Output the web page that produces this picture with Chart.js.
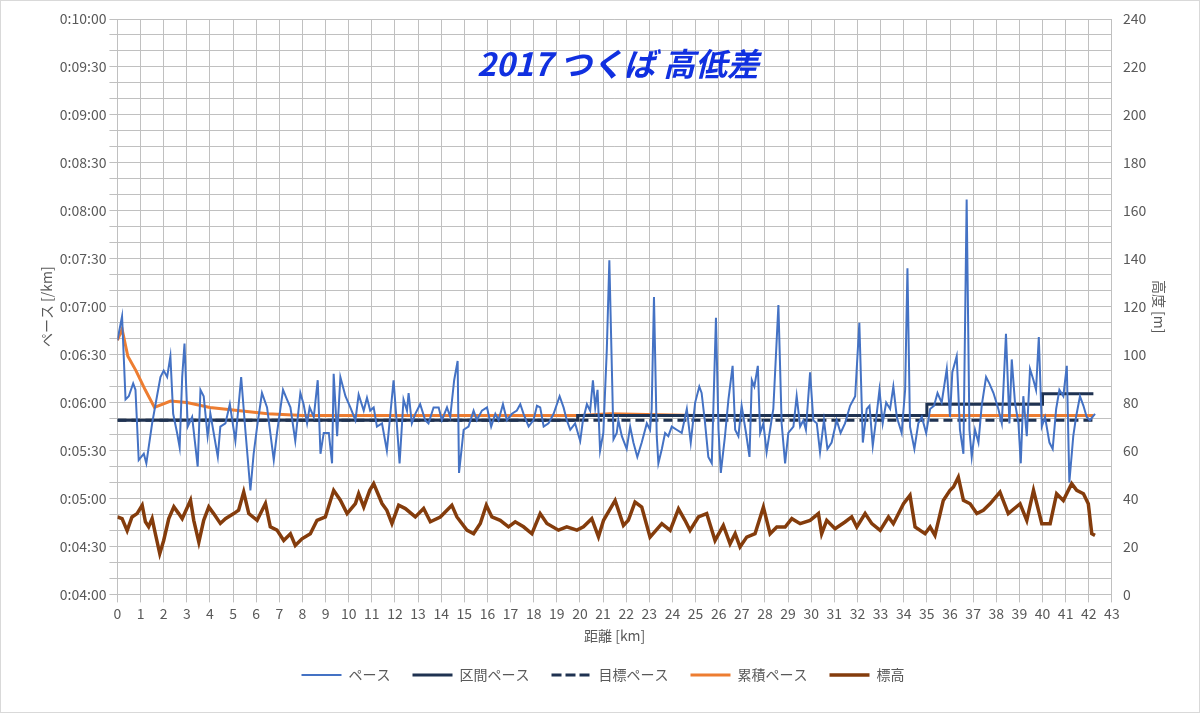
<!DOCTYPE html>
<html>
<head>
<meta charset="utf-8">
<script src="https://cdn.jsdelivr.net/npm/chart.js@4"></script>
<style>
  html, body { margin: 0; padding: 0; background: #fff; }
  #wrap { position: relative; width: 1198px; height: 711px; border: 1px solid #d9d9d9; }
  #title {
    position: absolute; left: 0; width: 1234px; top: 38px; text-align: center;
    font: italic bold 32px "Noto Sans CJK JP", sans-serif; color: #1030e0;
    pointer-events: none;
  }
</style>
</head>
<body>
<div id="wrap">
  <canvas id="chart" width="1198" height="711"></canvas>
  <div id="title">2017 つくば 高低差</div>
</div>
<script>
/* ── Data (distance km / pace seconds / elevation m) ── */
const paceKm = [0,0.2,0.35,0.49,0.68,0.78,0.92,1.14,1.25,1.5,1.71,1.86,2,2.15,2.29,2.41,2.58,2.69,2.8,2.9,3.04,3.23,3.47,3.59,3.73,3.9,4.02,4.34,4.45,4.67,4.86,5.1,5.35,5.53,5.75,5.89,6.04,6.25,6.47,6.76,6.9,7.16,7.33,7.48,7.69,7.91,8.05,8.2,8.31,8.49,8.66,8.78,8.92,9.14,9.28,9.35,9.5,9.64,9.86,10.07,10.29,10.43,10.65,10.79,
  10.93,11.08,11.22,11.44,11.65,11.94,12.09,12.2,12.37,12.52,12.59,12.73,12.88,13.09,13.31,13.45,13.67,13.89,14.03,14.25,14.39,14.56,14.71,14.77,14.97,15.18,15.4,15.54,15.76,15.98,16.16,16.34,16.48,16.67,16.84,17.06,17.27,17.42,17.56,17.78,17.99,18.14,18.28,18.43,18.64,18.86,19.12,19.29,19.43,19.58,19.79,20.01,20.13,20.3,20.44,20.56,20.66,20.76,20.87,
  21.01,21.16,21.27,21.45,21.59,21.66,21.81,22.02,22.17,22.31,22.48,22.67,22.89,23.03,23.1,23.2,23.32,23.39,23.54,23.68,23.82,23.97,24.18,24.4,24.62,24.79,24.98,25.16,25.26,25.41,25.55,25.7,25.88,25.99,26.09,26.27,26.42,26.6,26.71,26.85,26.99,27.18,27.33,27.43,27.54,27.69,27.79,27.93,28.07,28.36,28.58,28.72,28.87,29.01,29.23,29.37,29.52,29.66,29.77,29.95,30.09,30.24,30.38,30.55,30.7,30.88,31.1,31.27,31.46,31.68,
  31.9,32.08,32.23,32.4,32.52,32.66,32.8,32.95,33.09,33.24,33.41,33.55,33.7,33.91,34.06,34.16,34.27,34.46,34.63,34.78,34.97,35.14,35.31,35.46,35.64,35.86,36,36.1,36.29,36.43,36.58,36.72,36.84,36.94,37.08,37.23,37.37,37.56,37.7,37.88,38.09,38.24,38.42,38.57,38.67,38.81,38.96,39.06,39.17,39.32,39.46,39.61,39.72,39.84,39.97,40.11,40.3,40.44,40.59,40.73,40.9,41.05,41.16,41.33,41.45,41.62,41.77,41.91,42.05,42.27];
const paceSec = [399,414,362,364,372,368,324,328,322,347,364,376,380,376,389,353,341,332,376,397,345,351,320,368,364,339,353,326,345,347,359,336,376,343,305,328,345,366,357,324,341,368,362,357,336,366,359,347,357,351,374,328,341,341,322,378,339,376,364,357,349,365,355,363,
  355,357,345,347,330,374,345,322,362,355,366,347,353,359,349,347,357,357,349,357,351,374,386,316,343,345,355,349,355,357,345,353,349,359,349,353,355,359,353,345,349,358,357,345,347,353,364,357,349,343,347,336,349,359,355,374,357,368,330,
  341,393,449,337,341,349,339,331,345,335,326,335,347,343,356,426,339,322,331,341,339,345,343,341,356,335,360,370,366,347,326,322,413,343,316,339,362,383,343,339,358,341,326,374,370,383,341,347,329,356,421,347,322,341,345,364,345,349,343,379,349,347,329,349,331,335,349,341,347,358,
  364,410,335,356,358,333,349,368,347,360,356,370,351,341,368,444,345,331,347,351,341,356,358,366,360,381,351,379,389,343,328,487,343,326,343,335,358,376,372,366,356,347,403,347,387,360,347,322,364,339,381,374,368,401,345,351,335,331,356,368,364,383,310,339,351,364,358,351,349,353];

const segKm   = [0, 19.9, 19.9, 35, 35, 40, 40, 42.2];
const segSec  = [349, 349, 352, 352, 359, 359, 365.5, 365.5];

const targetKm  = [0, 42.2];
const targetSec = [349, 349];

const cumKm  = [0, 0.2, 0.45, 0.8, 1.2, 1.6, 2.3, 3, 4, 5.2, 6.5, 8, 12, 20, 21.3, 25, 30, 35, 40, 42.2];
const cumSec = [399, 406, 389, 380, 368, 357, 361, 360, 357, 355, 353, 352, 352, 352, 353, 352, 352, 352, 352, 352];

const eleKm = [0,0.2,0.42,0.63,0.85,1.07,1.21,1.35,1.5,1.64,1.83,2,2.22,2.44,2.65,2.8,3.16,3.3,3.52,3.73,3.95,4.16,4.45,4.67,5.03,5.24,5.46,5.68,6.04,6.4,6.61,6.9,7.19,7.48,7.69,7.98,8.34,8.63,8.99,9.35,9.64,9.93,10.29,10.43,10.65,10.91,
  11.08,11.44,11.65,11.87,12.16,12.45,12.88,13.24,13.53,13.96,14.46,14.68,15.11,15.4,15.69,15.95,16.19,16.55,16.91,17.2,17.56,17.92,18.28,18.57,19.07,19.43,19.87,20.15,20.51,20.8,21.02,
  21.52,21.88,22.09,22.38,22.67,23.03,23.54,23.9,24.26,24.54,24.76,25.12,25.48,25.84,26.2,26.49,26.71,26.92,27.21,27.57,27.93,28.22,28.51,28.87,29.16,29.52,29.95,30.31,30.45,30.67,31.03,31.46,31.75,
  31.97,32.33,32.62,32.98,33.34,33.55,33.99,34.27,34.49,34.92,35.14,35.35,35.71,36,36.15,36.36,36.58,36.87,37.16,37.44,37.73,38.16,38.52,39.03,39.32,39.61,39.97,40.33,40.61,40.9,41.26,41.48,41.77,41.98,42.13,42.27];
const eleM = [32.3,31.6,26.6,32.3,33.7,37.2,30.3,28.2,31.6,25.3,17,22.5,31.6,36.5,33.7,31.6,39.3,30.9,21.8,30.9,36.5,33.7,29.6,31.6,33.7,35.1,42.7,33.7,30.9,37.9,28.2,26.8,22.5,25.3,20.4,23.2,25.3,30.9,32.3,43.4,39.3,33.7,37.9,42,36.5,43.4,
  46.2,37.9,35.1,29.6,37.2,35.8,32.3,35.8,30.3,32.3,37.2,32.3,26.8,25.3,29.6,37.2,32.3,30.9,28.2,30.3,28.2,25.3,33.7,29.6,26.8,28.2,26.8,28.2,31.6,24,30.9,
  39.2,28.8,30.9,38.5,36.4,23.9,29.5,26.7,35.7,30.9,26.7,32.3,33.7,22.5,28.8,21.1,25.3,19.8,23.9,25.3,36.4,25.3,28.1,28.1,31.6,29.5,30.9,33.7,25.3,30.9,27.4,30.2,32.3,
  28.1,33.7,29.5,26.7,32.3,29.5,37.8,41.3,28.1,25.3,28.1,24.6,39.2,43.4,44.8,48.9,39.2,37.8,33.7,35.1,37.8,42.7,33.7,37.8,30.9,43.4,29.5,29.5,42,39.2,46.2,43.4,42,37.8,25.3,24.6];

/* ── Helpers ── */
const pts = (xs, ys) => xs.map((x, i) => ({ x, y: ys[i] }));

function formatPace(sec) {
  const m = Math.floor(sec / 60);
  const s = Math.round(sec % 60);
  return "0:" + String(m).padStart(2, "0") + ":" + String(s).padStart(2, "0");
}

const FONT = "'Noto Sans CJK JP', 'Noto Sans', sans-serif";
const TXT  = "#595959";
const GRID = "#c0c0c0";
const NONE = "rgba(0,0,0,0)";

/* ── Chart ── */
new Chart(document.getElementById("chart"), {
  type: "line",
  data: {
    datasets: [
      { label: "ペース",     data: pts(paceKm, paceSec),     borderColor: "#4472C4", backgroundColor: NONE, borderWidth: 2,   yAxisID: "y" },
      { label: "区間ペース", data: pts(segKm, segSec),       borderColor: "#1F3251", backgroundColor: NONE, borderWidth: 3,   yAxisID: "y" },
      { label: "目標ペース", data: pts(targetKm, targetSec), borderColor: "#1F3251", backgroundColor: NONE, borderWidth: 3,   yAxisID: "y", borderDash: [9, 5] },
      { label: "累積ペース", data: pts(cumKm, cumSec),       borderColor: "#ED7D31", backgroundColor: NONE, borderWidth: 3,   yAxisID: "y" },
      { label: "標高",       data: pts(eleKm, eleM),         borderColor: "#843C0C", backgroundColor: NONE, borderWidth: 3.5, yAxisID: "y2" },
    ],
  },
  options: {
    responsive: false,
    animation: false,
    elements: { point: { radius: 0 }, line: { tension: 0 } },
    layout: { padding: { top: 18, right: 29, bottom: 20, left: 35 } },
    plugins: {
      tooltip: { enabled: false },
      legend: {
        position: "bottom",
        labels: {
          boxWidth: 40, boxHeight: 0, padding: 22,
          color: TXT, font: { family: FONT, size: 14 },
        },
      },
    },
    scales: {
      x: {
        type: "linear", min: 0, max: 43,
        ticks: { stepSize: 1, color: TXT, font: { family: FONT, size: 14 }, maxRotation: 0 },
        grid: { color: GRID },
        border: { color: GRID },
        title: { display: true, text: "距離 [km]", color: TXT, font: { family: FONT, size: 14 }, padding: 2 },
      },
      y: {
        min: 240, max: 600,
        ticks: {
          stepSize: 10, autoSkip: false, color: TXT, font: { family: FONT, size: 14 },
          callback: v => (v % 30 === 0 ? formatPace(v) : ""),
        },
        grid: { color: GRID },
        border: { color: GRID },
        title: { display: true, text: "ペース [/km]", color: TXT, font: { family: FONT, size: 14 }, padding: 2 },
      },
      y2: {
        position: "right", min: 0, max: 240,
        ticks: { stepSize: 20, color: TXT, font: { family: FONT, size: 14 } },
        grid: { display: false },
        border: { color: GRID },
        title: { display: true, text: "高度 [m]", color: TXT, font: { family: FONT, size: 14 }, padding: 2 },
      },
    },
  },
});
</script>
</body>
</html>
